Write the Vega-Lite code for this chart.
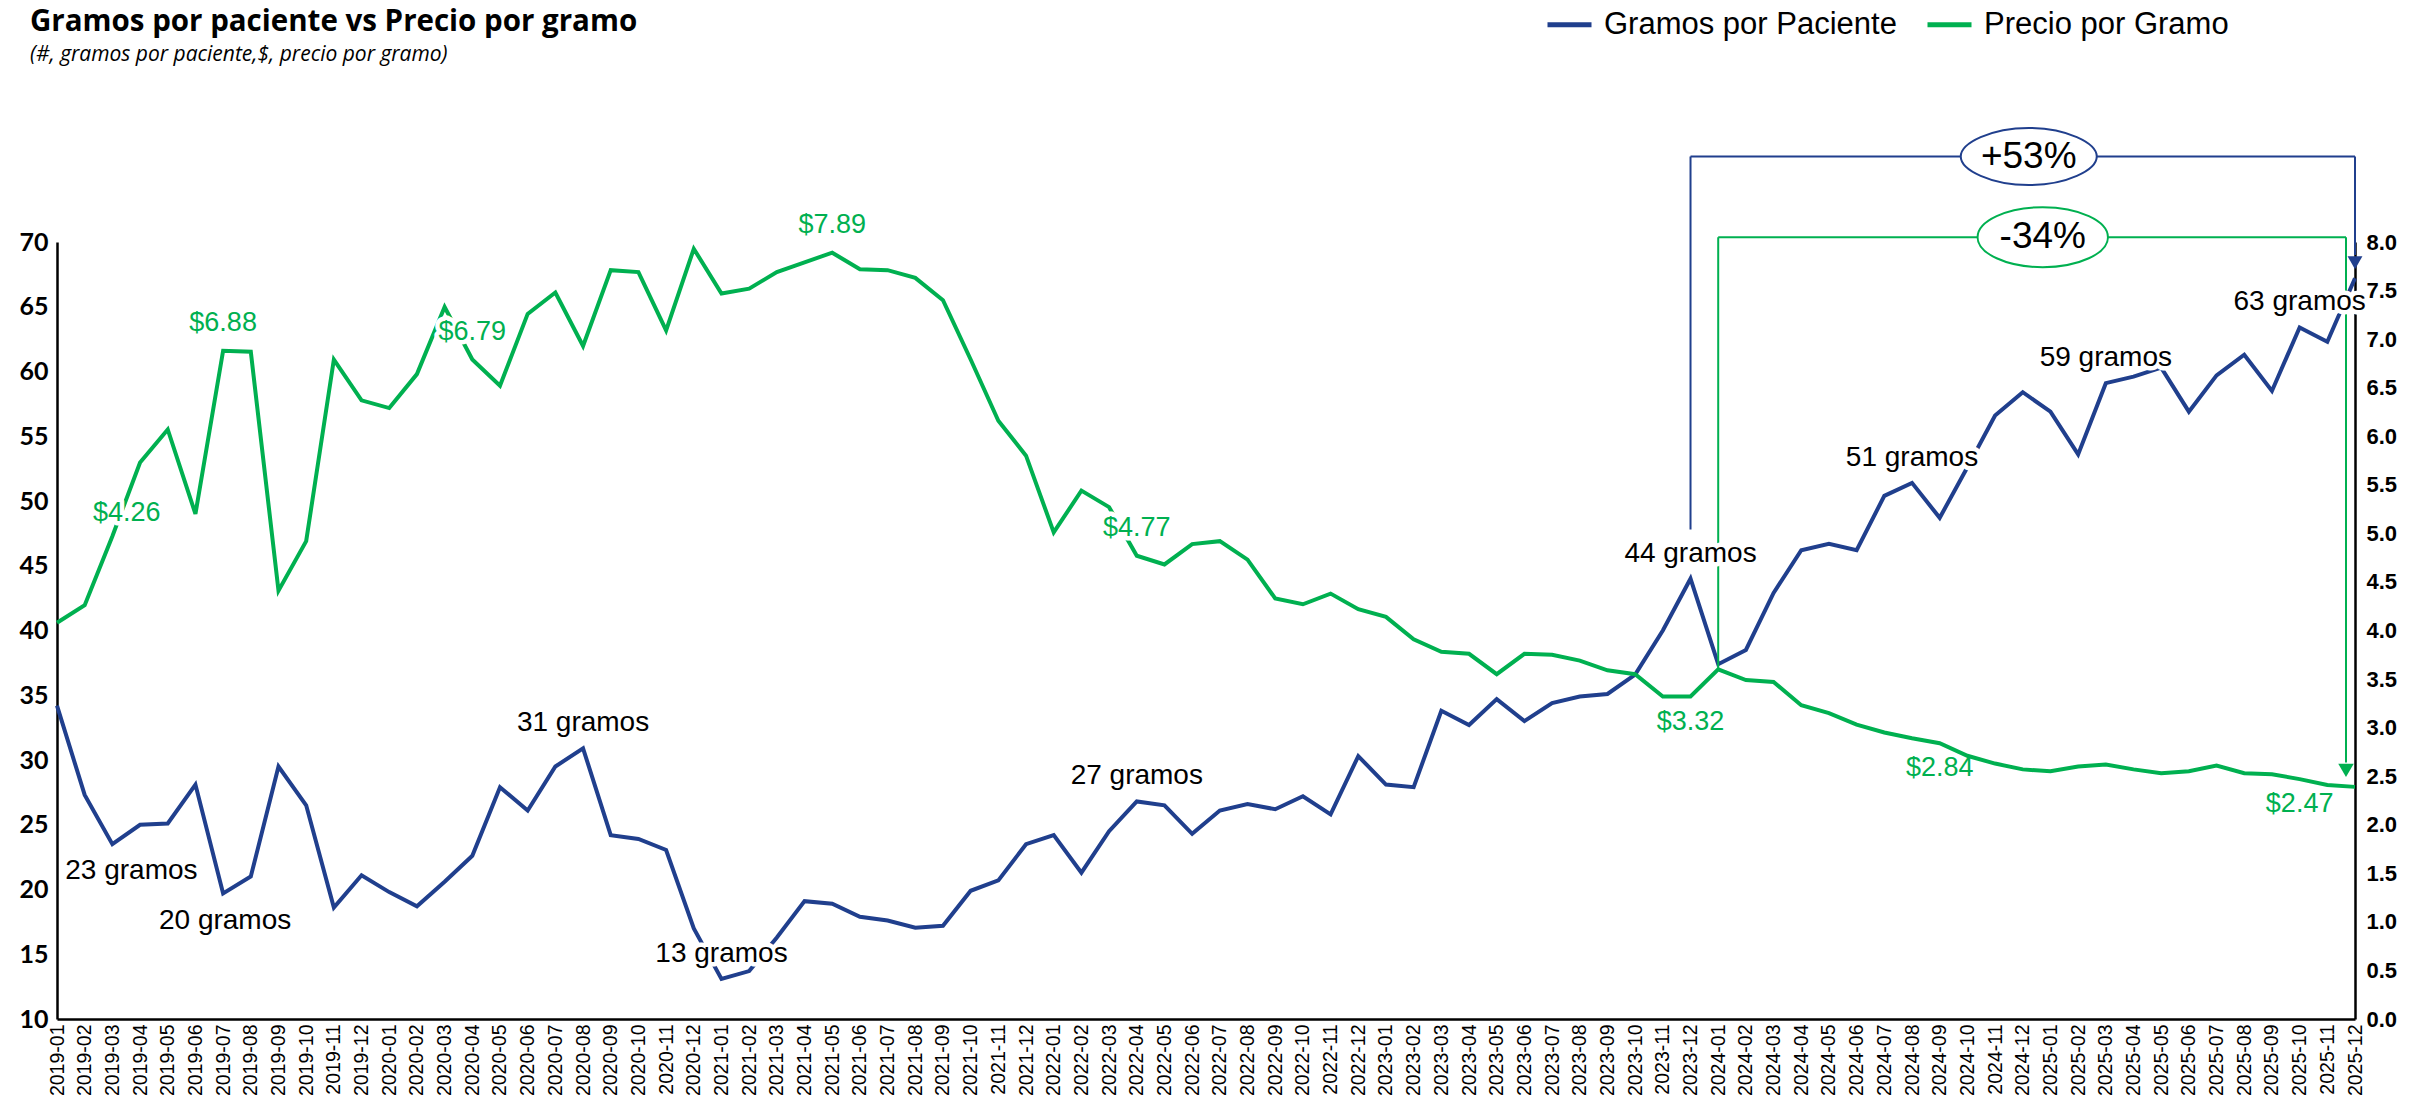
{
  "$schema": "https://vega.github.io/schema/vega-lite/v6.json",
  "width": 2298,
  "height": 777,
  "autosize": {"type": "none"},
  "padding": {"left": 57, "top": 242, "right": 60, "bottom": 80},
  "background": "white",
  "config": {"view": {"stroke": null}, "font": "Liberation Sans"},
  "title": {
    "text": "Gramos por paciente vs Precio por gramo",
    "subtitle": "(#, gramos por paciente,$, precio por gramo)",
    "anchor": "start",
    "frame": "group",
    "dx": -27,
    "offset": -66,
    "font": "Open Sans",
    "fontSize": 29.5,
    "fontWeight": "bold",
    "color": "black",
    "subtitleFont": "Open Sans",
    "subtitleFontSize": 21,
    "subtitleFontStyle": "italic",
    "subtitleColor": "black",
    "subtitlePadding": 7
  },
  "datasets": {
    "serie": [
      {"m": "2019-01", "g": 34.2, "p": 4.08},
      {"m": "2019-02", "g": 27.3, "p": 4.26},
      {"m": "2019-03", "g": 23.5, "p": 4.97},
      {"m": "2019-04", "g": 25.0, "p": 5.73},
      {"m": "2019-05", "g": 25.1, "p": 6.07},
      {"m": "2019-06", "g": 28.1, "p": 5.20},
      {"m": "2019-07", "g": 19.7, "p": 6.88},
      {"m": "2019-08", "g": 21.0, "p": 6.87},
      {"m": "2019-09", "g": 29.5, "p": 4.41},
      {"m": "2019-10", "g": 26.5, "p": 4.92},
      {"m": "2019-11", "g": 18.6, "p": 6.79},
      {"m": "2019-12", "g": 21.1, "p": 6.37},
      {"m": "2020-01", "g": 19.8, "p": 6.29},
      {"m": "2020-02", "g": 18.7, "p": 6.64},
      {"m": "2020-03", "g": 20.6, "p": 7.33},
      {"m": "2020-04", "g": 22.6, "p": 6.79},
      {"m": "2020-05", "g": 27.9, "p": 6.52},
      {"m": "2020-06", "g": 26.1, "p": 7.26},
      {"m": "2020-07", "g": 29.5, "p": 7.48},
      {"m": "2020-08", "g": 30.9, "p": 6.93},
      {"m": "2020-09", "g": 24.2, "p": 7.71},
      {"m": "2020-10", "g": 23.9, "p": 7.69},
      {"m": "2020-11", "g": 23.05, "p": 7.09},
      {"m": "2020-12", "g": 17.0, "p": 7.93},
      {"m": "2021-01", "g": 13.1, "p": 7.47},
      {"m": "2021-02", "g": 13.7, "p": 7.52},
      {"m": "2021-03", "g": 16.3, "p": 7.69},
      {"m": "2021-04", "g": 19.1, "p": 7.79},
      {"m": "2021-05", "g": 18.9, "p": 7.89},
      {"m": "2021-06", "g": 17.9, "p": 7.72},
      {"m": "2021-07", "g": 17.6, "p": 7.71},
      {"m": "2021-08", "g": 17.05, "p": 7.63},
      {"m": "2021-09", "g": 17.2, "p": 7.40},
      {"m": "2021-10", "g": 19.9, "p": 6.79},
      {"m": "2021-11", "g": 20.7, "p": 6.16},
      {"m": "2021-12", "g": 23.5, "p": 5.80},
      {"m": "2022-01", "g": 24.2, "p": 5.01},
      {"m": "2022-02", "g": 21.3, "p": 5.44},
      {"m": "2022-03", "g": 24.5, "p": 5.27},
      {"m": "2022-04", "g": 26.8, "p": 4.77},
      {"m": "2022-05", "g": 26.5, "p": 4.68},
      {"m": "2022-06", "g": 24.3, "p": 4.89},
      {"m": "2022-07", "g": 26.1, "p": 4.92},
      {"m": "2022-08", "g": 26.6, "p": 4.73},
      {"m": "2022-09", "g": 26.2, "p": 4.33},
      {"m": "2022-10", "g": 27.2, "p": 4.27},
      {"m": "2022-11", "g": 25.8, "p": 4.38},
      {"m": "2022-12", "g": 30.3, "p": 4.22},
      {"m": "2023-01", "g": 28.1, "p": 4.14},
      {"m": "2023-02", "g": 27.9, "p": 3.91},
      {"m": "2023-03", "g": 33.8, "p": 3.78},
      {"m": "2023-04", "g": 32.7, "p": 3.76},
      {"m": "2023-05", "g": 34.7, "p": 3.55},
      {"m": "2023-06", "g": 33.0, "p": 3.76},
      {"m": "2023-07", "g": 34.4, "p": 3.75},
      {"m": "2023-08", "g": 34.9, "p": 3.69},
      {"m": "2023-09", "g": 35.1, "p": 3.59},
      {"m": "2023-10", "g": 36.6, "p": 3.55},
      {"m": "2023-11", "g": 40.0, "p": 3.32},
      {"m": "2023-12", "g": 44.0, "p": 3.32},
      {"m": "2024-01", "g": 37.4, "p": 3.60},
      {"m": "2024-02", "g": 38.5, "p": 3.49},
      {"m": "2024-03", "g": 42.9, "p": 3.47},
      {"m": "2024-04", "g": 46.2, "p": 3.23},
      {"m": "2024-05", "g": 46.7, "p": 3.15},
      {"m": "2024-06", "g": 46.2, "p": 3.03},
      {"m": "2024-07", "g": 50.4, "p": 2.95},
      {"m": "2024-08", "g": 51.4, "p": 2.89},
      {"m": "2024-09", "g": 48.7, "p": 2.84},
      {"m": "2024-10", "g": 52.6, "p": 2.71},
      {"m": "2024-11", "g": 56.6, "p": 2.63},
      {"m": "2024-12", "g": 58.4, "p": 2.57},
      {"m": "2025-01", "g": 56.9, "p": 2.55},
      {"m": "2025-02", "g": 53.6, "p": 2.60},
      {"m": "2025-03", "g": 59.1, "p": 2.62},
      {"m": "2025-04", "g": 59.6, "p": 2.57},
      {"m": "2025-05", "g": 60.3, "p": 2.53},
      {"m": "2025-06", "g": 56.9, "p": 2.55},
      {"m": "2025-07", "g": 59.7, "p": 2.61},
      {"m": "2025-08", "g": 61.3, "p": 2.53},
      {"m": "2025-09", "g": 58.5, "p": 2.52},
      {"m": "2025-10", "g": 63.4, "p": 2.47},
      {"m": "2025-11", "g": 62.3, "p": 2.41},
      {"m": "2025-12", "g": 67.2, "p": 2.39}
    ],
    "bBracket": [
      {"m": "2023-12", "m2": "2023-12", "g": 47.8, "g2": 76.6},
      {"m": "2023-12", "m2": "2025-12", "g": 76.6, "g2": 76.6},
      {"m": "2025-12", "m2": "2025-12", "g": 76.6, "g2": 69.0}
    ],
    "bArrow": [{"m": "2025-12", "g": 68.4}],
    "gV1": [{"m": "2024-01", "m2": "2024-01", "p": 3.6, "p2": 8.05}],
    "gH": [{"m": "2024-01", "m2": "2025-12", "p": 8.05, "p2": 8.05}],
    "gV2": [{"m": "2025-12", "m2": "2025-12", "p": 8.05, "p2": 2.64}],
    "gArrow": [{"m": "2025-12", "p": 2.56}],
    "bLabelsUp": [
      {"m": "2020-08", "t": "31 gramos"},
      {"m": "2021-01", "t": "13 gramos"},
      {"m": "2022-04", "t": "27 gramos"},
      {"m": "2023-12", "t": "44 gramos"},
      {"m": "2024-08", "t": "51 gramos"},
      {"m": "2025-03", "t": "59 gramos"},
      {"m": "2025-10", "t": "63 gramos"}
    ],
    "bLabelDownA": [{"m": "2019-03", "t": "23 gramos"}],
    "bLabelDownB": [{"m": "2019-07", "t": "20 gramos"}],
    "gLabelsUp": [
      {"m": "2019-07", "t": "$6.88"},
      {"m": "2020-04", "t": "$6.79"},
      {"m": "2021-05", "t": "$7.89"},
      {"m": "2022-04", "t": "$4.77"}
    ],
    "gLabelsDown": [
      {"m": "2023-12", "t": "$3.32"},
      {"m": "2024-09", "t": "$2.84"},
      {"m": "2025-10", "t": "$2.47"}
    ],
    "gLabelFar": [{"m": "2019-02", "t": "$4.26"}],
    "bPct": [{"m": "2024-12", "g": 76.6, "t": "+53%"}],
    "gPct": [{"m": "2024-12", "p": 8.05, "t": "-34%"}]
  },
  "encoding": {
    "x": {
      "field": "m",
      "type": "ordinal",
      "scale": {"type": "point", "padding": 0},
      "axis": {
        "title": null,
        "labelAngle": 270,
        "labelFont": "Liberation Sans",
        "labelFontSize": 19.5,
        "labelColor": "black",
        "labelPadding": 5,
        "labelOverlap": false,
        "ticks": false,
        "grid": false,
        "domainColor": "black",
        "domainWidth": 2.5
      }
    }
  },
  "layer": [
    {
      "layer": [
        {
          "data": {"name": "serie"},
          "mark": {"type": "line", "strokeWidth": 4, "strokeJoin": "miter"},
          "encoding": {
            "y": {
              "field": "g",
              "type": "quantitative",
              "scale": {"domain": [10, 70], "zero": false, "nice": false},
              "axis": {
                "orient": "left",
                "title": null,
                "values": [10, 15, 20, 25, 30, 35, 40, 45, 50, 55, 60, 65, 70],
                "ticks": false,
                "grid": false,
                "domainColor": "black",
                "domainWidth": 2.5,
                "labelFont": "Lato",
                "labelFontWeight": "bold",
                "labelFontSize": 25,
                "labelColor": "black",
                "labelPadding": 9
              }
            },
            "color": {
              "datum": "Gramos por Paciente",
              "type": "nominal",
              "scale": {"domain": ["Gramos por Paciente", "Precio por Gramo"], "range": ["#203F8D", "#00B050"]},
              "legend": {
                "orient": "none",
                "legendX": 1488,
                "legendY": -242,
                "direction": "horizontal",
                "title": null,
                "symbolType": "stroke",
                "symbolStrokeWidth": 5,
                "symbolSize": 1936,
                "labelFont": "Liberation Sans",
                "labelFontSize": 31,
                "labelColor": "black",
                "labelLimit": 0,
                "labelOffset": 10,
                "columnPadding": 20,
                "padding": 0
              }
            }
          }
        },
        {
          "data": {"name": "bBracket"},
          "mark": {"type": "rule", "color": "#203F8D", "strokeWidth": 2},
          "encoding": {
            "x2": {"field": "m2"},
            "y": {"field": "g", "type": "quantitative", "scale": {"domain": [10, 70], "zero": false, "nice": false}},
            "y2": {"field": "g2"}
          }
        },
        {
          "data": {"name": "bArrow"},
          "mark": {"type": "point", "shape": "triangle-down", "filled": true, "color": "#203F8D", "opacity": 1, "size": 220},
          "encoding": {
            "y": {"field": "g", "type": "quantitative", "scale": {"domain": [10, 70], "zero": false, "nice": false}}
          }
        }
      ]
    },
    {
      "layer": [
        {
          "data": {"name": "serie"},
          "mark": {"type": "line", "strokeWidth": 4, "strokeJoin": "miter"},
          "encoding": {
            "y": {
              "field": "p",
              "type": "quantitative",
              "scale": {"domain": [0, 8], "zero": true, "nice": false},
              "axis": {
                "orient": "right",
                "title": null,
                "values": [0, 0.5, 1, 1.5, 2, 2.5, 3, 3.5, 4, 4.5, 5, 5.5, 6, 6.5, 7, 7.5, 8],
                "format": ".1f",
                "ticks": false,
                "grid": false,
                "domainColor": "black",
                "domainWidth": 2.5,
                "labelFont": "Liberation Sans",
                "labelFontWeight": "bold",
                "labelFontSize": 22,
                "labelColor": "black",
                "labelPadding": 11
              }
            },
            "color": {"datum": "Precio por Gramo", "type": "nominal"}
          }
        },
        {
          "data": {"name": "gV1"},
          "mark": {"type": "rule", "color": "#00B050", "strokeWidth": 2},
          "encoding": {
            "x2": {"field": "m2"},
            "y": {"field": "p", "type": "quantitative", "scale": {"domain": [0, 8], "nice": false}},
            "y2": {"field": "p2"}
          }
        },
        {
          "data": {"name": "gH"},
          "mark": {"type": "rule", "color": "#00B050", "strokeWidth": 2, "x2Offset": -9},
          "encoding": {
            "x2": {"field": "m2"},
            "y": {"field": "p", "type": "quantitative", "scale": {"domain": [0, 8], "nice": false}},
            "y2": {"field": "p2"}
          }
        },
        {
          "data": {"name": "gV2"},
          "mark": {"type": "rule", "color": "#00B050", "strokeWidth": 2, "xOffset": -9, "x2Offset": -9},
          "encoding": {
            "x2": {"field": "m2"},
            "y": {"field": "p", "type": "quantitative", "scale": {"domain": [0, 8], "nice": false}},
            "y2": {"field": "p2"}
          }
        },
        {
          "data": {"name": "gArrow"},
          "mark": {"type": "point", "shape": "triangle-down", "filled": true, "color": "#00B050", "opacity": 1, "size": 240, "xOffset": -9},
          "encoding": {
            "y": {"field": "p", "type": "quantitative", "scale": {"domain": [0, 8], "nice": false}}
          }
        }
      ]
    },
    {
      "layer": [
        {
          "data": {"name": "bLabelsUp"},
          "transform": [{"lookup": "m", "from": {"data": {"name": "serie"}, "key": "m", "fields": ["g"]}}],
          "mark": {"type": "text", "fontSize": 28, "baseline": "middle", "dy": -25, "fill": "white", "stroke": "white", "strokeWidth": 9, "strokeJoin": "round"},
          "encoding": {
            "y": {"field": "g", "type": "quantitative", "scale": {"domain": [10, 70], "zero": false, "nice": false}, "axis": null},
            "text": {"field": "t"}
          }
        },
        {
          "data": {"name": "bLabelsUp"},
          "transform": [{"lookup": "m", "from": {"data": {"name": "serie"}, "key": "m", "fields": ["g"]}}],
          "mark": {"type": "text", "fontSize": 28, "baseline": "middle", "dy": -25, "color": "black"},
          "encoding": {
            "y": {"field": "g", "type": "quantitative", "scale": {"domain": [10, 70], "zero": false, "nice": false}, "axis": null},
            "text": {"field": "t"}
          }
        },
        {
          "data": {"name": "bLabelDownA"},
          "transform": [{"lookup": "m", "from": {"data": {"name": "serie"}, "key": "m", "fields": ["g"]}}],
          "mark": {"type": "text", "fontSize": 28, "baseline": "middle", "dy": 27, "dx": 19, "color": "black"},
          "encoding": {
            "y": {"field": "g", "type": "quantitative", "scale": {"domain": [10, 70], "zero": false, "nice": false}, "axis": null},
            "text": {"field": "t"}
          }
        },
        {
          "data": {"name": "bLabelDownB"},
          "transform": [{"lookup": "m", "from": {"data": {"name": "serie"}, "key": "m", "fields": ["g"]}}],
          "mark": {"type": "text", "fontSize": 28, "baseline": "middle", "dy": 28, "dx": 2, "color": "black"},
          "encoding": {
            "y": {"field": "g", "type": "quantitative", "scale": {"domain": [10, 70], "zero": false, "nice": false}, "axis": null},
            "text": {"field": "t"}
          }
        },
        {
          "data": {"name": "bPct"},
          "mark": {"type": "point", "shape": "M-1,0C-1,-0.2,-0.5523,-0.42,0,-0.42C0.5523,-0.42,1,-0.2,1,0C1,0.2,0.5523,0.42,0,0.42C-0.5523,0.42,-1,0.2,-1,0Z", "size": 18500, "filled": true, "fill": "white", "stroke": "#203F8D", "strokeWidth": 2, "opacity": 1, "fillOpacity": 1, "xOffset": 6},
          "encoding": {
            "y": {"field": "g", "type": "quantitative", "scale": {"domain": [10, 70], "zero": false, "nice": false}, "axis": null}
          }
        },
        {
          "data": {"name": "bPct"},
          "mark": {"type": "text", "fontSize": 37, "baseline": "middle", "color": "black", "xOffset": 6},
          "encoding": {
            "y": {"field": "g", "type": "quantitative", "scale": {"domain": [10, 70], "zero": false, "nice": false}, "axis": null},
            "text": {"field": "t"}
          }
        }
      ]
    },
    {
      "layer": [
        {
          "data": {"name": "gLabelsUp"},
          "transform": [{"lookup": "m", "from": {"data": {"name": "serie"}, "key": "m", "fields": ["p"]}}],
          "mark": {"type": "text", "fontSize": 27, "baseline": "middle", "dy": -28, "fill": "white", "stroke": "white", "strokeWidth": 9, "strokeJoin": "round"},
          "encoding": {
            "y": {"field": "p", "type": "quantitative", "scale": {"domain": [0, 8], "nice": false}, "axis": null},
            "text": {"field": "t"}
          }
        },
        {
          "data": {"name": "gLabelsUp"},
          "transform": [{"lookup": "m", "from": {"data": {"name": "serie"}, "key": "m", "fields": ["p"]}}],
          "mark": {"type": "text", "fontSize": 27, "baseline": "middle", "dy": -28, "color": "#00B050"},
          "encoding": {
            "y": {"field": "p", "type": "quantitative", "scale": {"domain": [0, 8], "nice": false}, "axis": null},
            "text": {"field": "t"}
          }
        },
        {
          "data": {"name": "gLabelsDown"},
          "transform": [{"lookup": "m", "from": {"data": {"name": "serie"}, "key": "m", "fields": ["p"]}}],
          "mark": {"type": "text", "fontSize": 27, "baseline": "middle", "dy": 25, "color": "#00B050"},
          "encoding": {
            "y": {"field": "p", "type": "quantitative", "scale": {"domain": [0, 8], "nice": false}, "axis": null},
            "text": {"field": "t"}
          }
        },
        {
          "data": {"name": "gLabelFar"},
          "transform": [{"lookup": "m", "from": {"data": {"name": "serie"}, "key": "m", "fields": ["p"]}}],
          "mark": {"type": "text", "fontSize": 27, "baseline": "middle", "dy": -92, "dx": 42, "fill": "white", "stroke": "white", "strokeWidth": 9, "strokeJoin": "round"},
          "encoding": {
            "y": {"field": "p", "type": "quantitative", "scale": {"domain": [0, 8], "nice": false}, "axis": null},
            "text": {"field": "t"}
          }
        },
        {
          "data": {"name": "gLabelFar"},
          "transform": [{"lookup": "m", "from": {"data": {"name": "serie"}, "key": "m", "fields": ["p"]}}],
          "mark": {"type": "text", "fontSize": 27, "baseline": "middle", "dy": -92, "dx": 42, "color": "#00B050"},
          "encoding": {
            "y": {"field": "p", "type": "quantitative", "scale": {"domain": [0, 8], "nice": false}, "axis": null},
            "text": {"field": "t"}
          }
        },
        {
          "data": {"name": "gPct"},
          "mark": {"type": "point", "shape": "M-1,0C-1,-0.25,-0.5523,-0.46,0,-0.46C0.5523,-0.46,1,-0.25,1,0C1,0.25,0.5523,0.46,0,0.46C-0.5523,0.46,-1,0.25,-1,0Z", "size": 17000, "filled": true, "fill": "white", "stroke": "#00B050", "strokeWidth": 2, "opacity": 1, "fillOpacity": 1, "xOffset": 20},
          "encoding": {
            "y": {"field": "p", "type": "quantitative", "scale": {"domain": [0, 8], "nice": false}, "axis": null}
          }
        },
        {
          "data": {"name": "gPct"},
          "mark": {"type": "text", "fontSize": 37, "baseline": "middle", "color": "black", "xOffset": 20},
          "encoding": {
            "y": {"field": "p", "type": "quantitative", "scale": {"domain": [0, 8], "nice": false}, "axis": null},
            "text": {"field": "t"}
          }
        }
      ]
    }
  ],
  "resolve": {"scale": {"y": "independent"}}
}
